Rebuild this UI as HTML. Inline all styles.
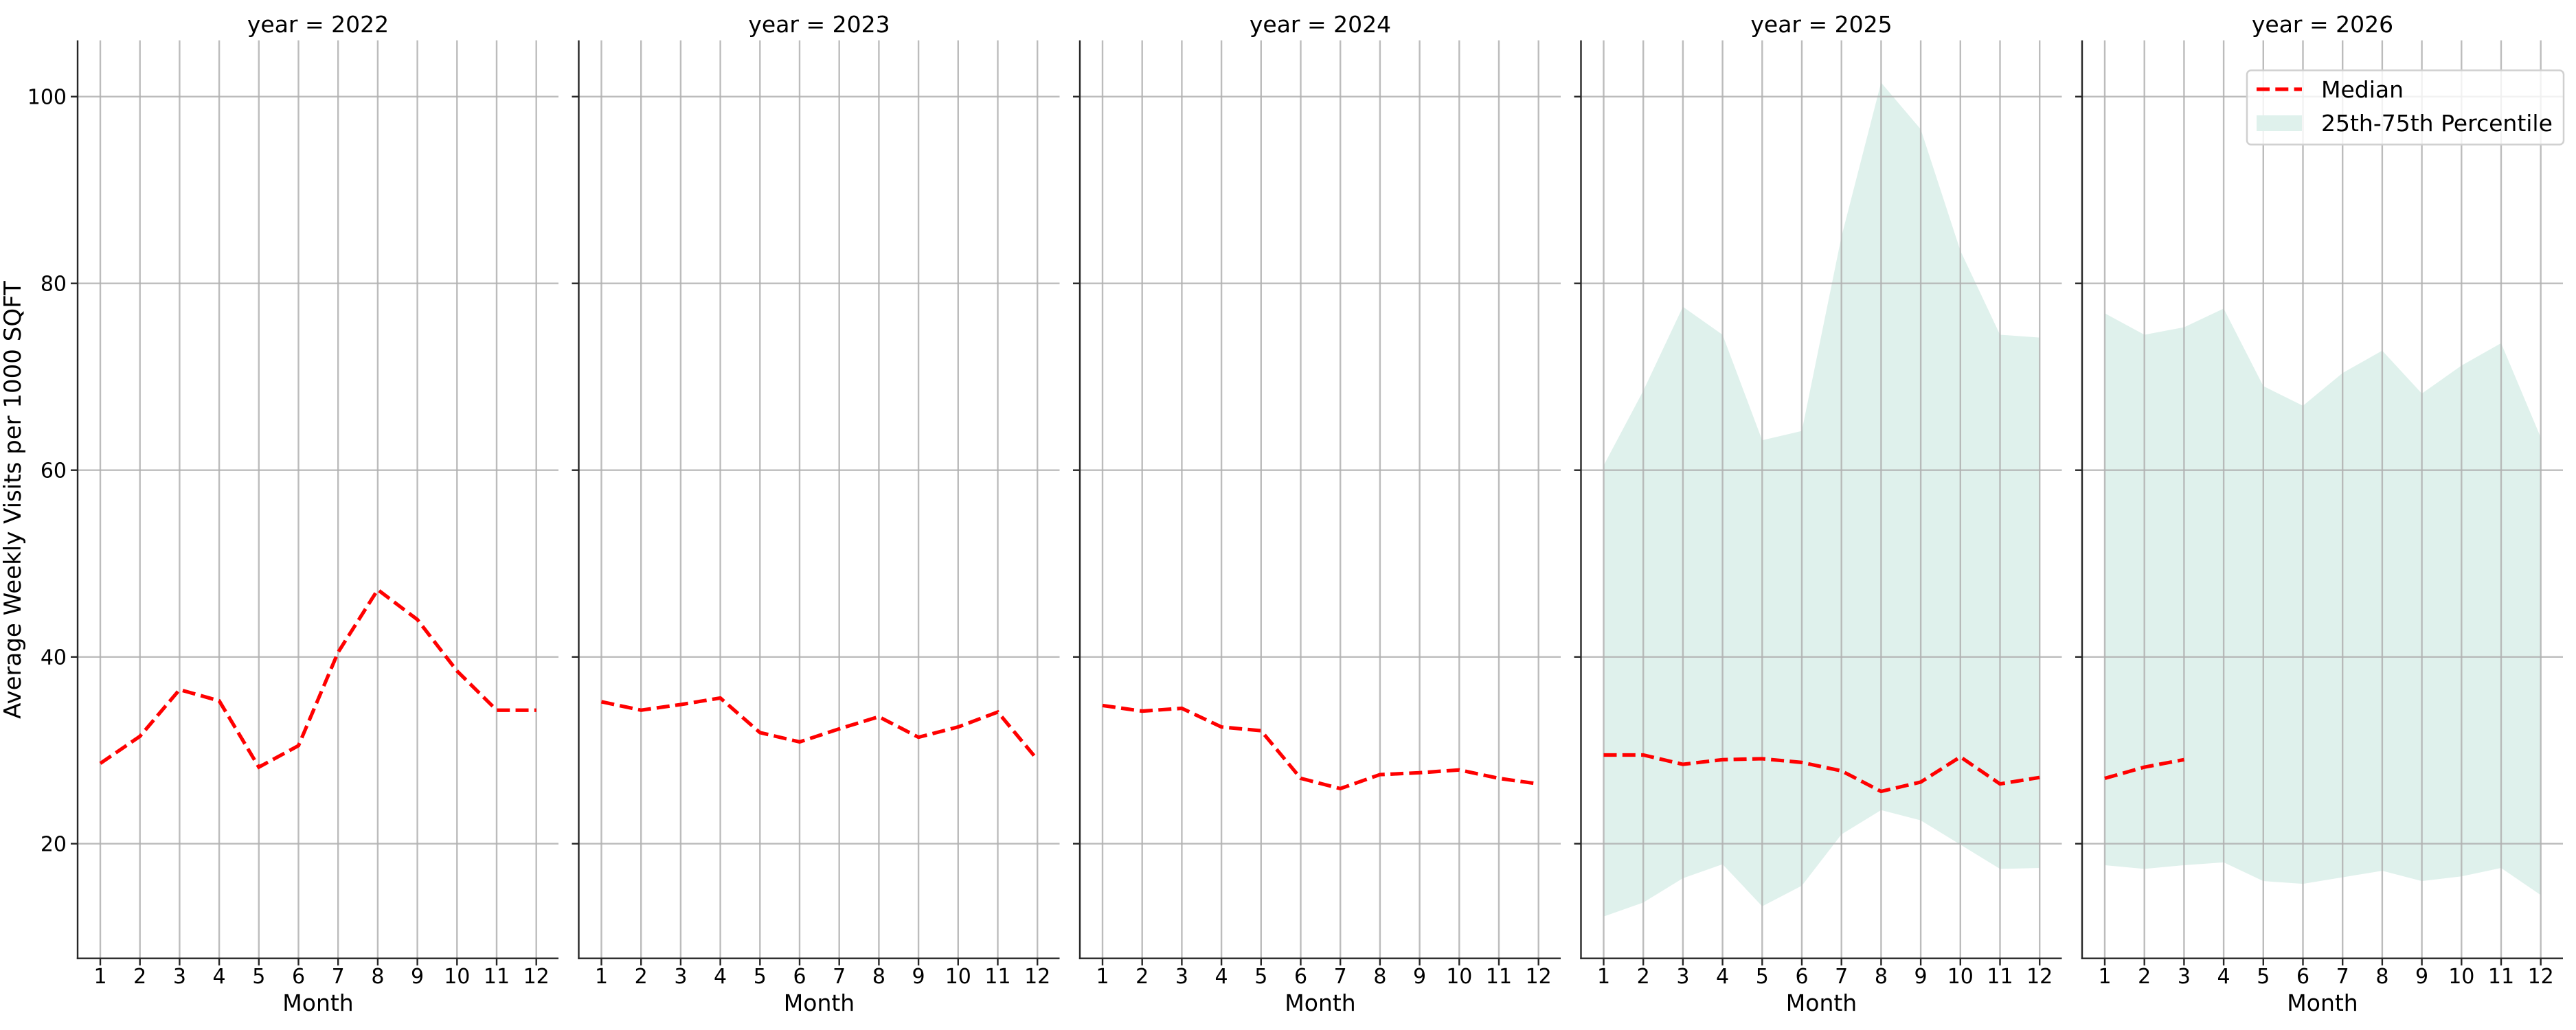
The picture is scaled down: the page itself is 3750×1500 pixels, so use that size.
<!DOCTYPE html>
<html><head><meta charset="utf-8"><style>
html,body{margin:0;padding:0;background:#fff;}
svg{display:block;}
text{font-family:"DejaVu Sans","Liberation Sans",sans-serif;fill:#000;}
</style></head><body>
<svg id="s" width="3750" height="1500" viewBox="0 0 3750 1500" xmlns="http://www.w3.org/2000/svg">
<g id="plots"></g>
<g font-size="33" text-anchor="middle">
<text x="463" y="47">year = 2022</text>
<text x="1192.5" y="47">year = 2023</text>
<text x="1922" y="47">year = 2024</text>
<text x="2651.5" y="47">year = 2025</text>
<text x="3381" y="47">year = 2026</text>
<text x="463" y="1472">Month</text>
<text x="1192.5" y="1472">Month</text>
<text x="1922" y="1472">Month</text>
<text x="2651.5" y="1472">Month</text>
<text x="3381" y="1472">Month</text>
</g>
<g font-size="30" text-anchor="end">
<text x="97" y="151.7">100</text>
<text x="97" y="423.7">80</text>
<text x="97" y="695.7">60</text>
<text x="97" y="967.7">40</text>
<text x="97" y="1239.7">20</text>
</g>
<text font-size="34" text-anchor="middle" transform="translate(30,728) rotate(-90)">Average Weekly Visits per 1000 SQFT</text>
<g font-size="30" text-anchor="middle" transform="translate(113,1432)">
<text x="33">1</text><text x="90.7">2</text><text x="148.4">3</text><text x="206.1">4</text><text x="263.8">5</text><text x="321.5">6</text><text x="379.2">7</text><text x="436.9">8</text><text x="494.6">9</text><text x="552.3">10</text><text x="610">11</text><text x="667.7">12</text>
</g>
<g font-size="30" text-anchor="middle" transform="translate(842.5,1432)">
<text x="33">1</text><text x="90.7">2</text><text x="148.4">3</text><text x="206.1">4</text><text x="263.8">5</text><text x="321.5">6</text><text x="379.2">7</text><text x="436.9">8</text><text x="494.6">9</text><text x="552.3">10</text><text x="610">11</text><text x="667.7">12</text>
</g>
<g font-size="30" text-anchor="middle" transform="translate(1572,1432)">
<text x="33">1</text><text x="90.7">2</text><text x="148.4">3</text><text x="206.1">4</text><text x="263.8">5</text><text x="321.5">6</text><text x="379.2">7</text><text x="436.9">8</text><text x="494.6">9</text><text x="552.3">10</text><text x="610">11</text><text x="667.7">12</text>
</g>
<g font-size="30" text-anchor="middle" transform="translate(2301.5,1432)">
<text x="33">1</text><text x="90.7">2</text><text x="148.4">3</text><text x="206.1">4</text><text x="263.8">5</text><text x="321.5">6</text><text x="379.2">7</text><text x="436.9">8</text><text x="494.6">9</text><text x="552.3">10</text><text x="610">11</text><text x="667.7">12</text>
</g>
<g font-size="30" text-anchor="middle" transform="translate(3031,1432)">
<text x="33">1</text><text x="90.7">2</text><text x="148.4">3</text><text x="206.1">4</text><text x="263.8">5</text><text x="321.5">6</text><text x="379.2">7</text><text x="436.9">8</text><text x="494.6">9</text><text x="552.3">10</text><text x="610">11</text><text x="667.7">12</text>
</g>
<g id="legend">
<rect x="3271" y="102.5" width="461" height="108" rx="6" fill="#fff" fill-opacity="0.8" stroke="#d0d0d0" stroke-width="2.5"/>
<line x1="3285" y1="130" x2="3351" y2="130" stroke="#ff0000" stroke-width="5.2" stroke-dasharray="19 8.3"/>
<rect x="3285" y="168" width="66" height="23" fill="#dff1ec"/>
<text x="3379" y="142" font-size="33">Median</text>
<text x="3379" y="191" font-size="33">25th-75th Percentile</text>
</g>
</svg>
<script>
(function(){
var NS="http://www.w3.org/2000/svg";
var g=document.getElementById("plots");
function el(t,a){var e=document.createElementNS(NS,t);for(var k in a)e.setAttribute(k,a[k]);g.appendChild(e);return e;}
function Y(v){return 140.7+(100-v)*13.6;}
var L=[113,842.5,1572,2301.5,3031];
var med=[
[28.6,31.5,36.5,35.3,28.2,30.5,40.5,47.2,44,38.5,34.3,34.3],
[35.2,34.3,34.9,35.6,31.9,30.9,32.3,33.6,31.4,32.5,34.1,29],
[34.8,34.2,34.5,32.5,32.1,27,25.9,27.4,27.6,27.9,27,26.4],
[29.5,29.5,28.5,29,29.1,28.7,27.8,25.6,26.6,29.3,26.4,27.1],
[27,28.2,29]];
var up={3:[60.5,68.5,77.5,74.5,63.2,64.2,85,101.5,96.5,83.5,74.5,74.2],
4:[76.8,74.5,75.3,77.3,69,66.9,70.4,72.8,68.2,71.2,73.6,63.5]};
var lo={3:[12.2,13.7,16.3,17.8,13.3,15.5,21,23.6,22.5,19.9,17.3,17.4],
4:[17.7,17.3,17.7,18,16,15.7,16.4,17.1,16,16.5,17.4,14.5]};
for(var p=0;p<5;p++){
 var l=L[p];
 function X(m){return l+33+(m-1)*57.7;}
 if(up[p]){
  var pts=[];
  for(var m=1;m<=12;m++)pts.push(X(m)+","+Y(up[p][m-1]));
  for(var m=12;m>=1;m--)pts.push(X(m)+","+Y(lo[p][m-1]));
  el("polygon",{points:pts.join(" "),fill:"#dff1ec"});
 }
 for(var v=20;v<=100;v+=20){
  el("line",{x1:l,x2:l+700,y1:Y(v),y2:Y(v),stroke:"#b0b0b0","stroke-opacity":0.85,"stroke-width":2.4});
  el("line",{x1:l-10,x2:l,y1:Y(v),y2:Y(v),stroke:"#262626","stroke-width":2.4});
 }
 for(var m=1;m<=12;m++){
  el("line",{x1:X(m),x2:X(m),y1:58.7,y2:1395.7,stroke:"#b0b0b0","stroke-opacity":0.85,"stroke-width":2.4});
  el("line",{x1:X(m),x2:X(m),y1:1395.7,y2:1406,stroke:"#262626","stroke-width":2.4});
 }
 var d=[];
 for(var i=0;i<med[p].length;i++)d.push((i?"L":"M")+X(i+1)+" "+Y(med[p][i]));
 el("path",{d:d.join(" "),fill:"none",stroke:"#ff0000","stroke-width":5.2,"stroke-dasharray":"19 8.3"});
 el("line",{x1:l,x2:l,y1:58.7,y2:1396.9,stroke:"#262626","stroke-width":2.4});
 el("line",{x1:l-1.2,x2:l+700,y1:1395.7,y2:1395.7,stroke:"#262626","stroke-width":2.4});
}
})();
</script>
</body></html>
